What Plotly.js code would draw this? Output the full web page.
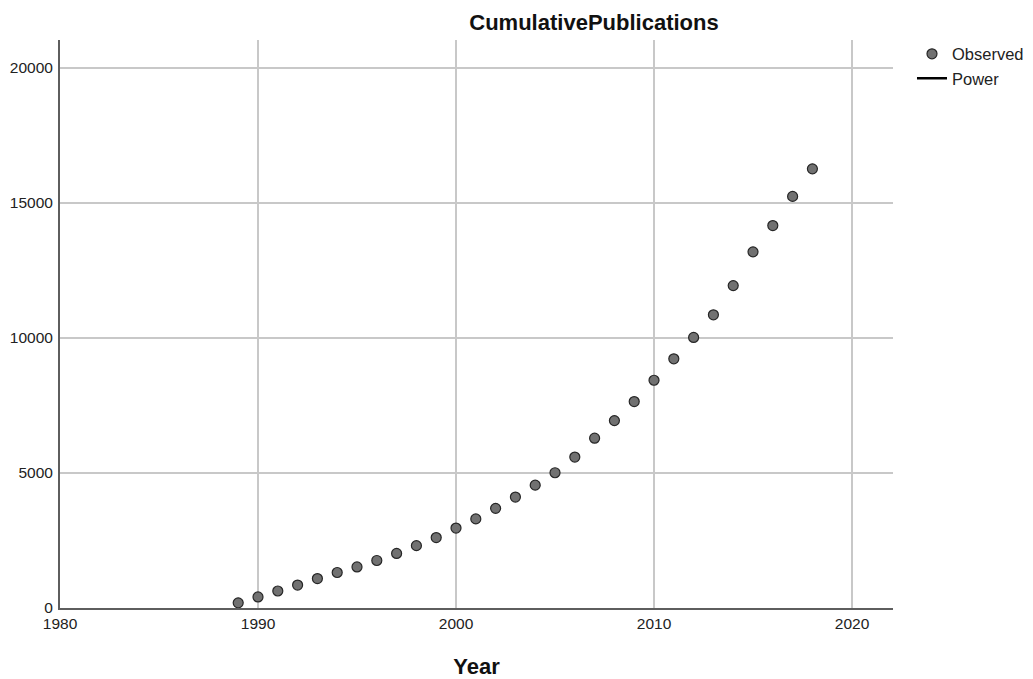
<!DOCTYPE html>
<html>
<head>
<meta charset="utf-8">
<script src="https://cdn.plot.ly/plotly-3.0.1.min.js"></script>
<style>
  html, body { margin: 0; padding: 0; background: #ffffff; }
  #chart { width: 1033px; height: 679px; }
</style>
</head>
<body>
<div id="chart"></div>
<script>
// Cumulative publication counts per year
const years = [1989, 1990, 1991, 1992, 1993, 1994, 1995, 1996, 1997, 1998,
               1999, 2000, 2001, 2002, 2003, 2004, 2005, 2006, 2007, 2008,
               2009, 2010, 2011, 2012, 2013, 2014, 2015, 2016, 2017, 2018];
const observed = [190, 410, 630, 850, 1090, 1315, 1520, 1760, 2020, 2310,
                  2610, 2960, 3300, 3690, 4110, 4550, 5010, 5590, 6290, 6940,
                  7645, 8435, 9230, 10020, 10860, 11940, 13190, 14165, 15245, 16265];
const xTicks = [1980, 1990, 2000, 2010, 2020];
const yTicks = [0, 5000, 10000, 15000, 20000];

const font = "Liberation Sans, Arial, sans-serif";

const traces = [
  {
    name: "Observed",
    x: years,
    y: observed,
    type: "scatter",
    mode: "markers",
    marker: { size: 10, color: "#717171", line: { color: "#262626", width: 1.2 } },
    cliponaxis: false
  },
  {
    // fitted power curve (no fitted values drawn)
    name: "Power",
    x: [null],
    y: [null],
    type: "scatter",
    mode: "lines",
    line: { color: "#000000", width: 2.5 }
  }
];

const layout = {
  width: 1033,
  height: 679,
  margin: { l: 60, r: 140, t: 40, b: 71, autoexpand: false },
  paper_bgcolor: "#ffffff",
  plot_bgcolor: "#ffffff",
  font: { family: font, color: "#222222", size: 14 },
  title: {
    text: "<b>CumulativePublications</b>",
    font: { family: font, size: 22, color: "#111111" },
    x: 594 / 1033, xref: "container", xanchor: "center",
    y: 1 - 22 / 679, yref: "container", yanchor: "middle"
  },
  xaxis: {
    range: [1980, 2022.07],
    tickvals: xTicks,
    ticktext: xTicks.map(String),
    showgrid: true,
    gridcolor: "#c8c8c8",
    gridwidth: 1.2,
    zeroline: false,
    showline: true,
    linecolor: "#5e5e5e",
    linewidth: 2,
    ticks: "",
    tickfont: { family: font, size: 15.5, color: "#222222" },
    title: {
      text: "<b>Year</b>",
      font: { family: font, size: 22, color: "#111111" },
      standoff: 28
    }
  },
  yaxis: {
    range: [0, 21037],
    tickvals: yTicks,
    ticktext: yTicks.map(String),
    showgrid: true,
    gridcolor: "#c8c8c8",
    gridwidth: 1.2,
    zeroline: false,
    showline: true,
    linecolor: "#5e5e5e",
    linewidth: 2,
    ticks: "",
    ticklabelstandoff: 2,
    tickfont: { family: font, size: 15.5, color: "#222222" }
  },
  showlegend: true,
  legend: {
    x: 1.0228, xanchor: "left",
    y: 1.006, yanchor: "top",
    font: { family: font, size: 16.5, color: "#222222" },
    bgcolor: "rgba(0,0,0,0)",
    tracegroupgap: 0
  }
};

Plotly.newPlot("chart", traces, layout, { displayModeBar: false, staticPlot: true });
</script>
</body>
</html>
